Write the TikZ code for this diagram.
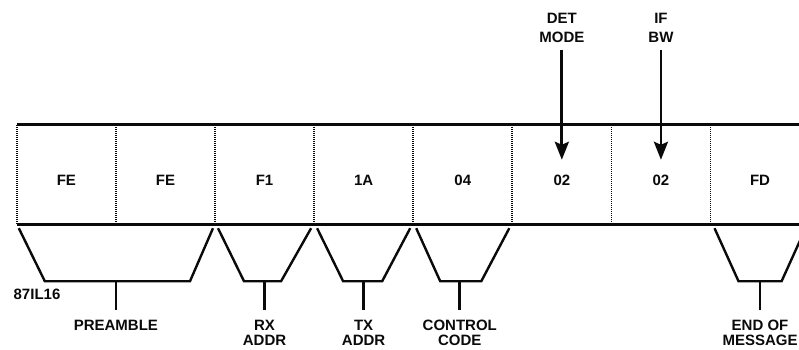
\documentclass[tikz,border=0pt]{standalone}
\usepackage{fontspec}
\setmainfont{Liberation Sans}
\usetikzlibrary{positioning,arrows.meta,calc}
\definecolor{FrameInk}{RGB}{10,10,10}
\tikzset{
  cell/.style={
    minimum width=98.7pt,
    minimum height=99pt,
    inner sep=0pt,
    text height=21.7pt,
    text depth=0pt,
    font=\fontsize{15}{15}\selectfont\bfseries,
    text=FrameInk
  },
  rail/.style={line width=3pt, FrameInk},
  sep/.style={line width=1.8pt, FrameInk, dash pattern=on 1.2pt off 0.8pt},
  brk/.style={line width=2.4pt, FrameInk, line join=miter},
  stem/.style={line width=2.6pt, FrameInk, shorten >=10pt},
  lbl/.style={font=\fontsize{15}{15}\selectfont\bfseries, text=FrameInk, align=center, inner sep=0pt},
  topnote/.style={lbl, font=\fontsize{15}{19}\selectfont\bfseries},
  probe/.style={-{Stealth[length=18pt,width=14pt,inset=3pt]}, line width=2.8pt, FrameInk, shorten <=7pt}
}
\begin{document}
\begin{tikzpicture}[x=1pt, y=-1pt, node distance=0pt]
\useasboundingbox (0,0) rectangle (799,350);
% message bytes
\node[cell] (fe1) at (66.35,174.5) {FE};
\node[cell, right=of fe1] (fe2) {FE};
\node[cell, right=of fe2] (rx) {F1};
\node[cell, right=of rx] (tx) {1A};
\node[cell, right=of tx] (ctl) {04};
\node[cell, right=of ctl] (det) {02};
\node[cell, right=of det] (ifbw) {02};
\node[cell, right=of ifbw] (eom) {FD};
\foreach \c in {fe1,fe2,rx,tx,ctl,det,ifbw,eom}
  \draw[sep] (\c.north west) -- (\c.south west);
\draw[rail] (fe1.north west) -- (eom.north east);
\draw[rail] (fe1.south west) -- (eom.south east);
% field brackets
\draw[brk] ($(fe1.south west)+(2,4)$) -- ($(fe1.south west)+(28,57)$) -- ($(fe2.south east)+(-25,57)$) -- ($(fe2.south east)+(-2,4)$);
\draw[brk] ($(rx.south west)+(3,4)$) -- ($(rx.south west)+(29,57)$) -- ($(rx.south east)+(-33,57)$) -- ($(rx.south east)+(-3,4)$);
\draw[brk] ($(tx.south west)+(3,4)$) -- ($(tx.south west)+(29,57)$) -- ($(tx.south east)+(-31,57)$) -- ($(tx.south east)+(-3,4)$);
\draw[brk] ($(ctl.south west)+(3,4)$) -- ($(ctl.south west)+(27,57)$) -- ($(ctl.south east)+(-31,57)$) -- ($(ctl.south east)+(-3,4)$);
\draw[brk] ($(eom.south west)+(4,4)$) -- ($(eom.south west)+(28,57)$) -- ($(eom.south east)+(-28,57)$) -- ($(eom.south east)+(-4,4)$);
\coordinate (preb) at ($(fe1.south east)+(0,57)$);
\coordinate (rxb) at ($(rx.south)+(0,57)$);
\coordinate (txb) at ($(tx.south)+(0,57)$);
\coordinate (ctlb) at ($(ctl.south)+(-3,57)$);
\coordinate (eomb) at ($(eom.south)+(0,57)$);
\node[lbl, below=39pt of preb] (pre) {PREAMBLE};
\node[lbl, below=39pt of rxb] (rxl) {RX\\ADDR};
\node[lbl, below=39pt of txb] (txl) {TX\\ADDR};
\node[lbl, below=39pt of ctlb] (ctll) {CONTROL\\CODE};
\node[lbl, below=39pt of eomb] (eoml) {END OF\\MESSAGE};
\draw[stem] (preb) -- (pre);
\draw[stem] (rxb) -- (rxl);
\draw[stem] (txb) -- (txl);
\draw[stem] (ctlb) -- (ctll);
\draw[stem] (eomb) -- (eoml);
\node[lbl] (figid) at (37,294) {87IL16};
% settings pointed at
\node[topnote, above=82pt of det.north] (detnote) {DET\\MODE};
\node[topnote, above=82pt of ifbw.north] (bwnote) {IF\\BW};
\coordinate (dettip) at ($(det.north)+(0,35)$);
\coordinate (bwtip) at ($(ifbw.north)+(0,35)$);
\draw[probe] (detnote) -- (dettip);
\draw[probe] (bwnote) -- (bwtip);
\end{tikzpicture}
\end{document}
